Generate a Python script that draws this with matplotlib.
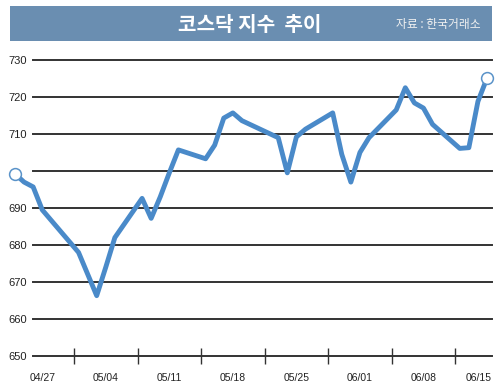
import pandas as pd
import matplotlib
matplotlib.use("Agg")
import matplotlib.pyplot as plt
from matplotlib.patches import Rectangle

TITLE = "코스닥 지수  추이"
SOURCE = "자료 : 한국거래소"

DATES = [
    "2015-04-27", "2015-04-28", "2015-04-29", "2015-04-30",
    "2015-05-04", "2015-05-06", "2015-05-07", "2015-05-08",
    "2015-05-11", "2015-05-12", "2015-05-13", "2015-05-14", "2015-05-15",
    "2015-05-18", "2015-05-19", "2015-05-20", "2015-05-21", "2015-05-22",
    "2015-05-26", "2015-05-27", "2015-05-28", "2015-05-29",
    "2015-06-01", "2015-06-02", "2015-06-03", "2015-06-04", "2015-06-05",
    "2015-06-08", "2015-06-09", "2015-06-10", "2015-06-11", "2015-06-12",
    "2015-06-15", "2015-06-16", "2015-06-17", "2015-06-18",
]
VALUES = [
    699.2, 697.0, 695.7, 689.5,
    678.0, 666.3, 674.0, 682.0,
    692.6, 687.2, 693.0, 699.5, 705.7,
    703.3, 707.0, 714.3, 715.7, 713.6,
    709.0, 699.5, 709.2, 711.3,
    715.7, 704.5, 697.0, 705.0, 709.0,
    716.5, 722.5, 718.4, 717.0, 712.6,
    706.1, 706.3, 718.8, 725.1,
]
Y_TICKS = [650, 660, 670, 680, 690, 700, 710, 720, 730]
Y_LABELS = ["650", "660", "670", "680", "690", "", "710", "720", "730"]
WEEK_LABELS = ["04/27", "05/04", "05/11", "05/18", "05/25", "06/01", "06/08", "06/15"]

LINE_COLOR = "#4a8ac9"
BAR_COLOR = "#6a8eb1"
GRID_COLOR = "#333333"
TEXT_COLOR = "#222222"

dates = pd.to_datetime(DATES)
days = (dates - dates[0]).days.to_numpy()

fig = plt.figure(figsize=(5.0, 3.9), dpi=100)
fig.patch.set_facecolor("white")

# title bar
fig.patches.append(Rectangle((0.02, 0.8949), 0.964, 0.0897, transform=fig.transFigure,
                             facecolor=BAR_COLOR, edgecolor="none", zorder=0))
fig.text(0.5, 0.938, TITLE, ha="center", va="center", color="white", fontsize=14.5,
         fontweight="bold", family=["Noto Sans CJK KR", "DejaVu Sans"])
fig.text(0.961, 0.936, SOURCE, ha="right", va="center", color="#f2f2f2", fontsize=8.5,
         family=["Noto Sans CJK KR", "DejaVu Sans"])

ax = fig.add_axes([0.066, 0.0872, 0.918, 0.759])
ax.set_xlim(1.983, 52.55)
ax.set_ylim(650, 730)
for side in ax.spines.values():
    side.set_visible(False)

for y in Y_TICKS:
    ax.axhline(y, color=GRID_COLOR, linewidth=1.4, zorder=1, clip_on=False)

ax.plot(days, VALUES, color=LINE_COLOR, linewidth=3.5, solid_joinstyle="round",
        solid_capstyle="butt", zorder=3, clip_on=False)
ax.plot([days[0], days[-1]], [VALUES[0], VALUES[-1]], linestyle="none", marker="o",
        markersize=8.5, markerfacecolor="white", markeredgecolor="#5a93c9",
        markeredgewidth=1.1, zorder=4, clip_on=False)

ax.set_yticks(Y_TICKS)
ax.set_yticklabels(Y_LABELS)
ax.tick_params(axis="y", length=0, pad=4.5, labelsize=8, labelcolor=TEXT_COLOR)

week_edges = [6.5 + 7 * i for i in range(7)]
ax.set_xticks(week_edges)
ax.set_xticklabels([])
ax.tick_params(axis="x", which="major", direction="inout", length=11, width=1.0,
               color=GRID_COLOR)
label_pos = [3, 10, 17, 24, 31, 38, 45, 51.05]
ax.set_xticks(label_pos, minor=True)
ax.set_xticklabels(WEEK_LABELS, minor=True)
ax.tick_params(axis="x", which="minor", length=0, pad=12, labelsize=7.5,
               labelcolor=TEXT_COLOR)

for lbl in ax.get_yticklabels() + ax.get_xticklabels(minor=True):
    lbl.set_family(["Liberation Sans", "DejaVu Sans"])

fig.savefig("out.png", dpi=100)
